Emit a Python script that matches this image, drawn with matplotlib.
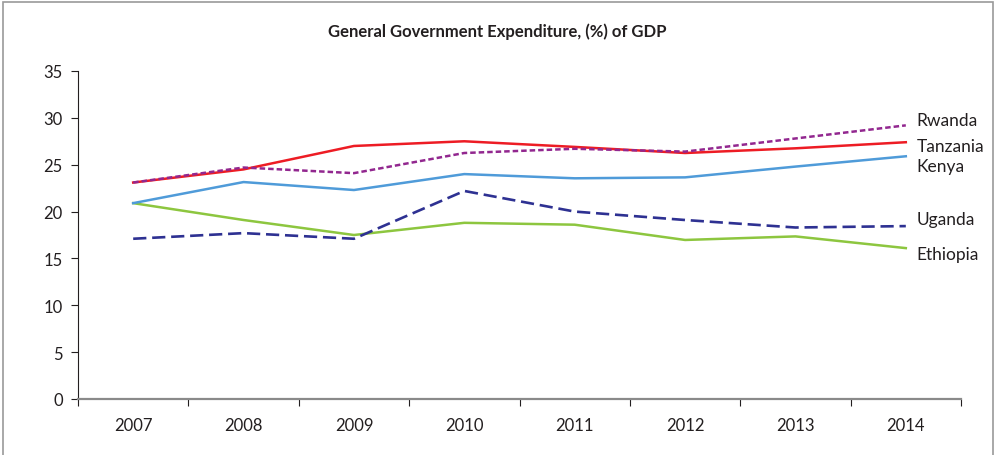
import matplotlib.pyplot as plt
from matplotlib.patches import Rectangle

years = ["2007", "2008", "2009", "2010", "2011", "2012", "2013", "2014"]
rwanda = [23.1, 24.7, 24.1, 26.25, 26.7, 26.4, 27.8, 29.2]
tanzania = [23.1, 24.5, 27.0, 27.5, 26.9, 26.25, 26.75, 27.4]
kenya = [20.9, 23.15, 22.3, 24.0, 23.55, 23.65, 24.8, 25.9]
uganda = [17.1, 17.7, 17.1, 22.2, 20.0, 19.1, 18.3, 18.45]
ethiopia = [20.9, 19.1, 17.5, 18.8, 18.6, 16.97, 17.35, 16.1]

plt.rcParams['font.family'] = ['Lato', 'DejaVu Sans']

fig = plt.figure(figsize=(9.95, 4.56), dpi=100)
ax = fig.add_axes([78 / 995, 56 / 456, 883 / 995, 328 / 456])

x = list(range(len(years)))
ax.plot(x, ethiopia, color="#8DC63F", lw=1.8)
ax.plot(x, uganda, color="#2E3192", lw=1.9, dashes=(5, 2.2))
ax.plot(x, kenya, color="#4F9BD9", lw=1.8)
ax.plot(x, tanzania, color="#ED1C24", lw=1.8)
ax.plot(x, rwanda, color="#92278F", lw=1.8, dashes=(2.2, 1.2))

# series names at the right end of each line
labels = [("Rwanda", 29.8), ("Tanzania", 27.0), ("Kenya", 24.9),
          ("Uganda", 19.2), ("Ethiopia", 15.5)]
for name, y in labels:
    ax.text(7.1, y, name, fontsize=12.5, color="#231F20", va="center", ha="left",
            clip_on=False)

ax.set_xlim(-0.5, 7.5)
ax.set_ylim(0, 35)
ax.set_yticks(range(0, 36, 5))
ax.set_xticks([i - 0.5 for i in range(9)], minor=False)
ax.set_xticklabels([])
ax.set_xticks(x, minor=True)
ax.set_xticklabels(years, minor=True)
ax.tick_params(axis="x", which="minor", length=0, pad=13, labelsize=12,
               labelcolor="#231F20")
ax.tick_params(axis="x", which="major", length=5, width=0.8, color="#231F20",
               direction="out")
ax.tick_params(axis="y", length=5, width=0.8, color="#231F20", labelsize=12,
               labelcolor="#231F20", pad=6)

for side in ("top", "right"):
    ax.spines[side].set_visible(False)
ax.spines["left"].set_color("#231F20")
ax.spines["left"].set_linewidth(0.8)
ax.spines["bottom"].set_color("#8A8A8A")
ax.spines["bottom"].set_linewidth(1.6)

fig.text(0.5, 1 - 32 / 456, "General Government Expenditure, (%) of GDP",
         ha="center", va="center", fontsize=12, fontweight="bold",
         color="#231F20")

# outer frame
fig.patches.append(Rectangle((3 / 995, -0.1), 990 / 995, 1.1 - 2.5 / 456,
                             transform=fig.transFigure, fill=False,
                             edgecolor="#9A9A9A", lw=1.2))

fig.savefig("out.png", dpi=100)
